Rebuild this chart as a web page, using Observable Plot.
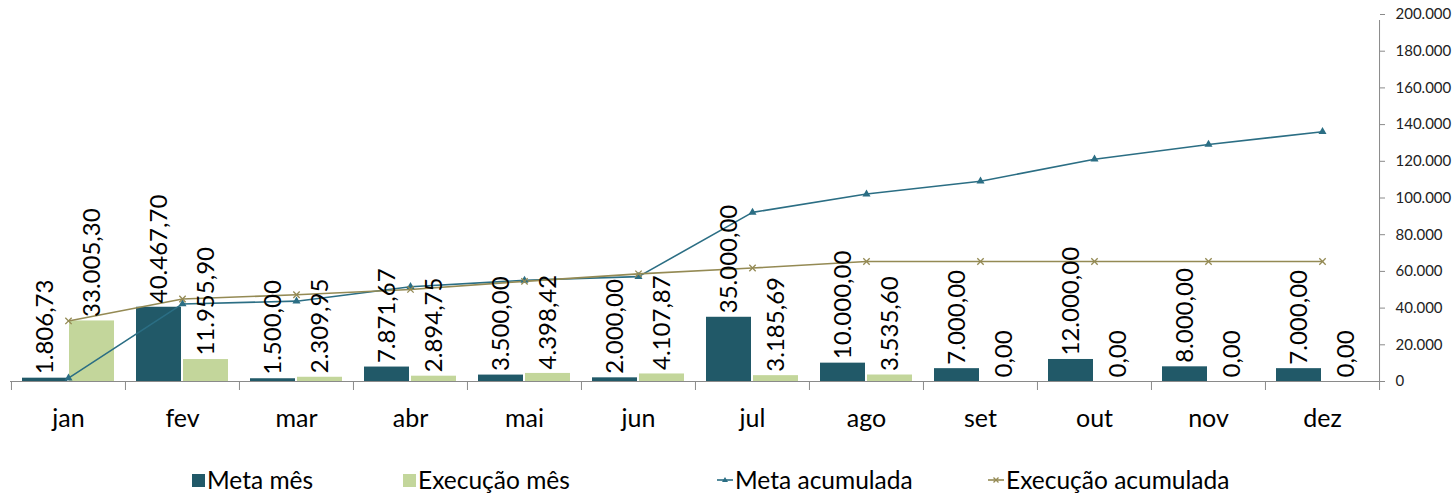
<!DOCTYPE html>
<html>
<head>
<meta charset="utf-8">
<script src="https://cdn.jsdelivr.net/npm/d3@7"></script>
<script src="https://cdn.jsdelivr.net/npm/@observablehq/plot@0.6"></script>
<style>
  body { margin: 0; background: #fff; font-family: Lato, "Open Sans", sans-serif; }
  #wrap { position: relative; width: 1454px; height: 493px; }
  #legend { position: absolute; top: 468px; left: 0; width: 1454px; height: 24px; font-size: 24.5px; line-height: 24px; color: #000; }
  .item { position: absolute; top: 0; display: flex; align-items: center; height: 24px; white-space: nowrap; }
  .sw { display: inline-block; width: 13px; height: 13px; margin-right: 2px; }
  svg.mk { margin-right: 2px; }
</style>
</head>
<body>
<div id="wrap">
  <div id="chart"></div>
  <div id="legend"></div>
</div>
<script>
const months = ["jan","fev","mar","abr","mai","jun","jul","ago","set","out","nov","dez"];
const metaMes = [1806.73, 40467.70, 1500.00, 7871.67, 3500.00, 2000.00, 35000.00, 10000.00, 7000.00, 12000.00, 8000.00, 7000.00];
const execMes = [33005.30, 11955.90, 2309.95, 2894.75, 4398.42, 4107.87, 3185.69, 3535.60, 0, 0, 0, 0];
const metaAcum = [1806.73, 42274.43, 43774.43, 51646.10, 55146.10, 57146.10, 92146.10, 102146.10, 109146.10, 121146.10, 129146.10, 136146.10];
const execAcum = [33005.30, 44961.20, 47271.15, 50165.90, 54564.32, 58672.19, 61857.88, 65393.48, 65393.48, 65393.48, 65393.48, 65393.48];
const yTicks = [0, 20000, 40000, 60000, 80000, 100000, 120000, 140000, 160000, 180000, 200000];
const seriesNames = ["Meta mês", "Execução mês", "Meta acumulada", "Execução acumulada"];
const colors = ["#215968", "#C3D69B", "#2B6E84", "#948A54"];

const loc = d3.formatLocale({decimal: ",", thousands: ".", grouping: [3], currency: ["R$", ""]});
const fmtLabel = loc.format(",.2f");
const fmtTick = loc.format(",.0f");

const W = 1454, H = 445, mL = 10, mR = 75, mT = 14, mB = 64;
const bw = (W - mL - mR) / months.length;

const meta = months.map((m, i) => ({month: m, v: metaMes[i]}));
const exec = months.map((m, i) => ({month: m, v: execMes[i]}));
const mAc = months.map((m, i) => ({month: m, v: metaAcum[i]}));
const eAc = months.map((m, i) => ({month: m, v: execAcum[i]}));

const font = "Lato, 'Open Sans', sans-serif";

const chart = Plot.plot({
  width: W, height: H,
  marginLeft: mL, marginRight: mR, marginTop: mT, marginBottom: mB,
  style: {fontFamily: font, background: "#fff", overflow: "visible"},
  x: {type: "band", domain: months, padding: 0, axis: null},
  y: {domain: [0, 200000], axis: null},
  marks: [
    Plot.barY(meta, {x: "month", y: "v", fill: colors[0], insetLeft: 11, insetRight: 58}),
    Plot.barY(exec, {x: "month", y: "v", fill: colors[1], insetLeft: 58, insetRight: 11}),
    Plot.ruleY([0], {stroke: "#8a8a8a", strokeWidth: 1}),
    Plot.ruleX(months, {x: d => d, y1: 0, y2: 0, insetBottom: -9, dx: -bw / 2, stroke: "#8a8a8a"}),
    Plot.ruleX(months.slice(-1), {x: d => d, y1: 0, y2: 0, insetBottom: -9, dx: bw / 2, stroke: "#8a8a8a"}),
    Plot.ruleX(months.slice(-1), {x: d => d, y1: 0, y2: 200000, insetBottom: -6, dx: bw / 2, stroke: "#8a8a8a"}),
    Plot.axisY({anchor: "right", ticks: yTicks, tickFormat: fmtTick, tickSize: 5, tickPadding: 11, label: null,
      fontSize: 15, stroke: "#8a8a8a", color: "#8a8a8a", fill: "#222"}),
    Plot.text(months, {x: d => d, y: 0, dy: 37, text: d => d, fontSize: 25, fill: "#000", lineAnchor: "middle"}),
    Plot.line(mAc, {x: "month", y: "v", stroke: colors[2], strokeWidth: 1.6}),
    Plot.line(eAc, {x: "month", y: "v", stroke: colors[3], strokeWidth: 1.6}),
    Plot.dot(mAc, {x: "month", y: "v", symbol: "triangle", r: 3, fill: colors[2], stroke: "none"}),
    Plot.dot(eAc, {x: "month", y: "v", symbol: "times", r: 3, stroke: colors[3], strokeWidth: 1.3}),
    Plot.text(meta, {x: "month", y: "v", text: d => fmtLabel(d.v), rotate: -90, textAnchor: "start",
      lineAnchor: "middle", dx: -bw / 2 + 11 + 22.5, dy: -4, fontSize: 24, fill: "#000"}),
    Plot.text(exec, {x: "month", y: "v", text: d => fmtLabel(d.v), rotate: -90, textAnchor: "start",
      lineAnchor: "middle", dx: 1 + 22.5, dy: -4, fontSize: 24, fill: "#000"})
  ]
});
document.getElementById("chart").appendChild(chart);

// Legend
const legend = document.getElementById("legend");
const legendX = [192, 403, 717, 988];
seriesNames.forEach((name, i) => {
  const item = document.createElement("div");
  item.className = "item";
  item.style.left = legendX[i] + "px";
  if (i < 2) {
    const sw = document.createElement("span");
    sw.className = "sw";
    sw.style.background = colors[i];
    item.appendChild(sw);
  } else {
    const ns = "http://www.w3.org/2000/svg";
    const s = document.createElementNS(ns, "svg");
    s.setAttribute("width", 16); s.setAttribute("height", 12); s.setAttribute("class", "mk");
    const l = document.createElementNS(ns, "line");
    l.setAttribute("x1", 0); l.setAttribute("x2", 16); l.setAttribute("y1", 6); l.setAttribute("y2", 6);
    l.setAttribute("stroke", colors[i]); l.setAttribute("stroke-width", 1.6);
    s.appendChild(l);
    if (i === 2) {
      const p = document.createElementNS(ns, "path");
      p.setAttribute("d", "M8,3 L11,8 L5,8 Z"); p.setAttribute("fill", colors[i]);
      s.appendChild(p);
    } else {
      const p = document.createElementNS(ns, "path");
      p.setAttribute("d", "M5.5,3.5 L10.5,8.5 M10.5,3.5 L5.5,8.5"); p.setAttribute("stroke", colors[i]); p.setAttribute("stroke-width", 1.3);
      s.appendChild(p);
    }
    item.appendChild(s);
  }
  const t = document.createElement("span");
  t.textContent = name;
  item.appendChild(t);
  legend.appendChild(item);
});
</script>
</body>
</html>
